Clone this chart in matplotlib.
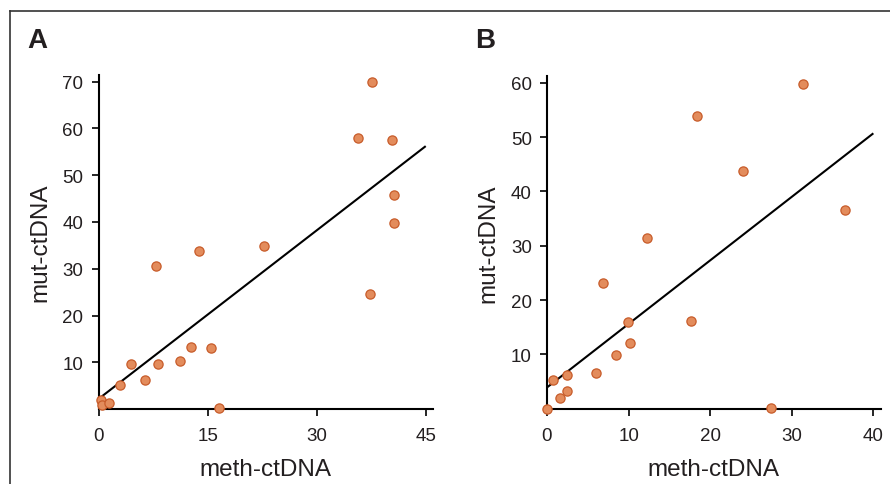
import matplotlib
matplotlib.use("Agg")
import matplotlib.pyplot as plt
from matplotlib.lines import Line2D
import numpy as np

plt.rcParams['font.family'] = ['Liberation Sans', 'DejaVu Sans']

# Panel A: meth-ctDNA vs mut-ctDNA
meth_a = [37.6, 35.7, 40.3, 40.65, 40.65, 37.3, 22.7, 13.8, 7.9, 12.7,
          15.5, 11.2, 4.4, 8.2, 6.4, 2.9, 0.27, 0.5, 1.4, 16.6]
mut_a = [69.9, 57.9, 57.5, 45.8, 39.8, 24.5, 34.9, 33.7, 30.6, 13.2,
         13.1, 10.35, 9.6, 9.6, 6.3, 5.15, 2.0, 0.9, 1.2, 0.2]
fit_a = (2.2, 1.2)            # intercept, slope
xticks_a = [0, 15, 30, 45]
yticks_a = [10, 20, 30, 40, 50, 60, 70]

# Panel B
meth_b = [31.4, 18.4, 24.0, 36.5, 12.2, 6.9, 17.7, 9.93, 10.2, 8.4,
          5.97, 2.4, 0.78, 2.4, 1.63, 0.0, 27.5]
mut_b = [59.75, 53.9, 43.8, 36.5, 31.4, 23.2, 16.2, 15.9, 12.15, 9.8,
         6.56, 6.2, 5.3, 3.2, 2.0, 0.0, 0.2]
fit_b = (3.9, 1.17)
xticks_b = [0, 10, 20, 30, 40]
yticks_b = [10, 20, 30, 40, 50, 60]

W, H = 890, 485
fig = plt.figure(figsize=(W / 100, H / 100), dpi=100)

FILL = '#e38c5c'
EDGE = '#c85c2a'
TXT = '#231f20'


def panel(rect, xs, ys, fit, xmax_line, xlim, ylim, xticks, yticks):
    ax = fig.add_axes(rect)
    ax.scatter(xs, ys, s=44, facecolor=FILL, edgecolor=EDGE, linewidth=0.9,
               zorder=3, clip_on=False)
    lx = np.array([0, xmax_line])
    ax.plot(lx, fit[0] + fit[1] * lx, color='black', lw=1.5, zorder=2,
            solid_capstyle='butt')
    ax.set_xlim(*xlim)
    ax.set_ylim(*ylim)
    ax.set_xticks(xticks)
    ax.set_yticks(yticks)
    for s in ('top', 'right'):
        ax.spines[s].set_visible(False)
    for s in ('left', 'bottom'):
        ax.spines[s].set_linewidth(1.5)
        ax.spines[s].set_color('black')
    ax.tick_params(axis='both', direction='out', length=5, width=1.2,
                   colors='black', labelcolor=TXT, labelsize=13.5)
    ax.tick_params(axis='x', pad=8)
    ax.tick_params(axis='y', pad=6)
    ax.set_xlabel('meth-ctDNA', fontsize=17.5, color=TXT, labelpad=10)
    ax.set_ylabel('mut-ctDNA', fontsize=17.5, color=TXT, labelpad=8)
    ax.patch.set_alpha(0)
    return ax


axA = panel([98.7 / W, 1 - 410.1 / H, (432.7 - 98.7) / W, (410.1 - 76) / H],
            meth_a, mut_a, fit_a, 45, (0, 45.96), (0, 71.4),
            xticks_a, yticks_a)
axB = panel([547 / W, 1 - 409.6 / H, (880.7 - 547) / W, (409.6 - 77.3) / H],
            meth_b, mut_b, fit_b, 40, (0, 40.9), (0, 61.2),
            xticks_b, yticks_b)

fig.text(27 / W, 1 - 48 / H, 'A', fontsize=20, fontweight='bold',
         color=TXT, ha='left', va='baseline')
fig.text(475 / W, 1 - 48 / H, 'B', fontsize=20, fontweight='bold',
         color=TXT, ha='left', va='baseline')

# outer frame: left and top rules
fy = 1 - 12 / H
fx = 10 / W
fig.add_artist(Line2D([fx, fx], [0, fy], transform=fig.transFigure,
                      color='#333333', lw=1.2))
fig.add_artist(Line2D([fx, 1], [fy, fy], transform=fig.transFigure,
                      color='#333333', lw=1.2))

fig.savefig('out.png', dpi=100, facecolor='white')
